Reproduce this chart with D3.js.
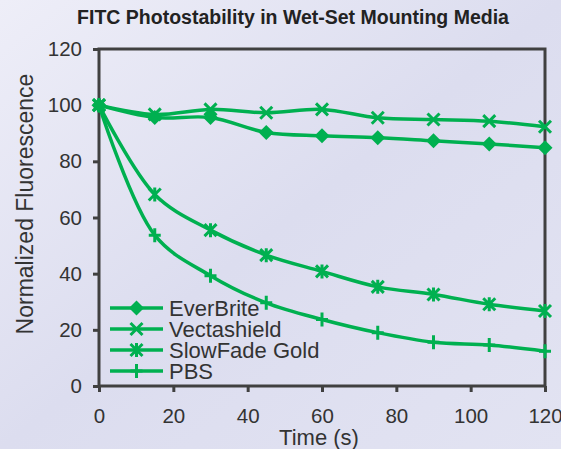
<!DOCTYPE html>
<html><head><meta charset="utf-8">
<script src="https://cdn.jsdelivr.net/npm/d3@7"></script>
<style>html,body{margin:0;padding:0;overflow:hidden;}svg{display:block;}</style>
</head><body>
<svg id="c" width="561" height="449"></svg>
<script>
const times = [0, 15, 30, 45, 60, 75, 90, 105, 120];
const everBrite = [100, 95.6, 95.6, 90.3, 89.1, 88.4, 87.3, 86.2, 84.8];
const vectashield = [100, 96.7, 98.5, 97.3, 98.5, 95.5, 94.9, 94.3, 92.3];
const slowFadeGold = [100, 68.2, 55.5, 46.6, 40.8, 35.3, 32.6, 29.1, 26.7];
const pbs = [100, 53.7, 39.3, 29.6, 23.7, 19.0, 15.6, 14.6, 12.4];
const seriesNames = ["EverBrite", "Vectashield", "SlowFade Gold", "PBS"];
const markers = ["diamond", "x", "star", "plus"];
const xTicks = [0, 20, 40, 60, 80, 100, 120];
const yTicks = [0, 20, 40, 60, 80, 100, 120];
const title = "FITC Photostability in Wet-Set Mounting Media";
const xLabel = "Time (s)";
const yLabel = "Normalized Fluorescence";

const seriesValues = [everBrite, vectashield, slowFadeGold, pbs];
const green = "#00b050";
const svg = d3.select("#c");
const W = 561, H = 449;
const defs = svg.append("defs");
const g0 = defs.append("linearGradient").attr("id","bg").attr("x1","0").attr("y1","0").attr("x2","1").attr("y2","1");
g0.append("stop").attr("offset","0").attr("stop-color","#eeeef8");
g0.append("stop").attr("offset","0.5").attr("stop-color","#dcddef");
g0.append("stop").attr("offset","1").attr("stop-color","#e2e3f2");
svg.append("rect").attr("width",W).attr("height",H).attr("fill","url(#bg)");

const m = {l:99, r:545, t:49, b:386};
const x = d3.scaleLinear().domain([0,120]).range([m.l, m.r]);
const y = d3.scaleLinear().domain([0,120]).range([m.b, m.t]);
const font = "Liberation Sans, Arial, sans-serif";
const axisCol = "#404040";

// title
svg.append("text").attr("x", 293).attr("y", 24)
  .attr("text-anchor","middle").attr("font-family",font).attr("font-weight","bold")
  .attr("font-size",19.5).attr("fill","#222").text(title);

// axes
const yAxis = d3.axisLeft(y).tickValues(yTicks).tickSize(6).tickPadding(11);
const xAxis = d3.axisBottom(x).tickValues(xTicks).tickSize(6).tickPadding(16);
const ya = svg.append("g").attr("transform",`translate(${m.l},0)`).call(yAxis);
const xa = svg.append("g").attr("transform",`translate(0,${m.b})`).call(xAxis);
[ya, xa].forEach(a => {
  a.select(".domain").remove();
  a.selectAll(".tick line").attr("stroke",axisCol).attr("stroke-width",3);
  a.selectAll(".tick text").attr("font-family",font).attr("font-size",20.5).attr("fill","#333");
});
// frame
svg.append("rect").attr("x",m.l).attr("y",m.t).attr("width",m.r-m.l).attr("height",m.b-m.t)
  .attr("fill","none").attr("stroke",axisCol).attr("stroke-width",3);

// labels
svg.append("text").attr("x",319).attr("y",445).attr("text-anchor","middle")
  .attr("font-family",font).attr("font-size",22).attr("fill","#333").text(xLabel);
svg.append("text").attr("transform",`translate(33,204) rotate(-90)`).attr("text-anchor","middle")
  .attr("font-family",font).attr("font-size",23).attr("fill","#333").text(yLabel);

function drawMarker(sel, type, cx, cy) {
  const gg = sel.append("g").attr("transform",`translate(${cx},${cy})`);
  const sw = 3;
  if (type==="diamond") {
    gg.append("path").attr("d","M0,-7.5L7.5,0L0,7.5L-7.5,0Z").attr("fill",green);
  } else if (type==="x") {
    gg.append("path").attr("d","M-6,-6L6,6M-6,6L6,-6").attr("stroke",green).attr("stroke-width",sw).attr("fill","none");
  } else if (type==="star") {
    gg.append("path").attr("d","M-6,-6L6,6M-6,6L6,-6M0,-7L0,7").attr("stroke",green).attr("stroke-width",sw).attr("fill","none");
  } else if (type==="plus") {
    gg.append("path").attr("d","M0,-7L0,7M-6,0L6,0").attr("stroke",green).attr("stroke-width",sw).attr("fill","none");
  }
}

const line = d3.line().x(d=>x(d[0])).y(d=>y(d[1])).curve(d3.curveCatmullRom.alpha(0.5));
const plot = svg.append("g");
seriesValues.forEach((vals, i) => {
  const pts = times.map((t,j)=>[t, vals[j]]);
  plot.append("path").datum(pts).attr("d",line).attr("fill","none")
    .attr("stroke",green).attr("stroke-width",3.5);
  pts.forEach(p => drawMarker(plot, markers[i], x(p[0]), y(p[1])));
});

// legend
const lg = svg.append("g");
seriesNames.forEach((n,i) => {
  const yy = 308 + i*21;
  lg.append("line").attr("x1",110).attr("x2",163).attr("y1",yy).attr("y2",yy)
    .attr("stroke",green).attr("stroke-width",3.5);
  drawMarker(lg, markers[i], 136.5, yy);
  lg.append("text").attr("x",169).attr("y",yy+7.5).attr("font-family",font).attr("font-size",22)
    .attr("fill","#333").text(n);
});
</script>
</body></html>
